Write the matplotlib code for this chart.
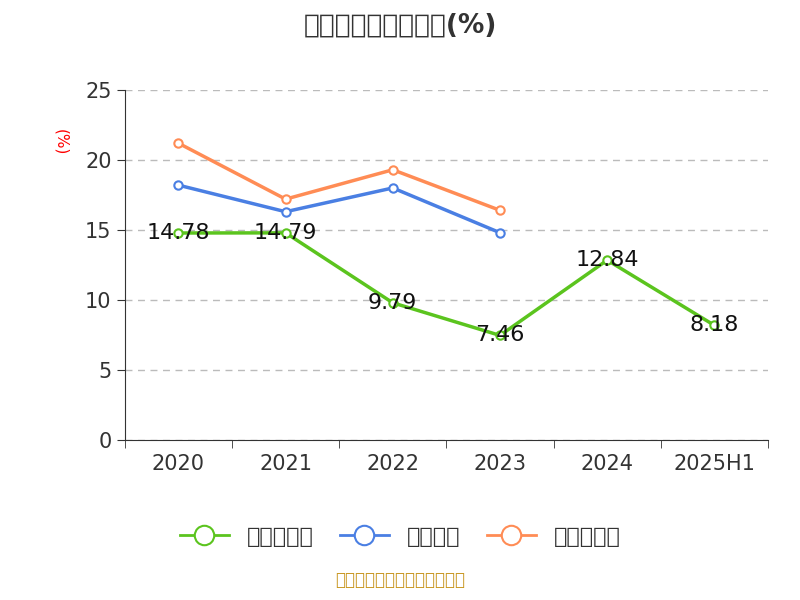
import matplotlib
matplotlib.use("Agg")
import matplotlib.pyplot as plt
from matplotlib import font_manager as fm

cjk = None
for f in fm.fontManager.ttflist:
    if 'CJK' in f.name and ('SC' in f.name or cjk is None):
        cjk = f.name
        if 'SC' in f.name:
            break
if cjk is None:
    import glob
    for p in glob.glob('/usr/share/fonts/**/*CJK*', recursive=True):
        fm.fontManager.addfont(p)
        cjk = fm.FontProperties(fname=p).get_name()
        break
plt.rcParams['font.family'] = 'sans-serif'
plt.rcParams['font.sans-serif'] = ['DejaVu Sans', cjk] if cjk else ['DejaVu Sans']

categories = ["2020", "2021", "2022", "2023", "2024", "2025H1"]
company = [14.78, 14.79, 9.79, 7.46, 12.84, 8.18]
industry_avg = [18.2, 16.3, 18.0, 14.8]
industry_median = [21.2, 17.2, 19.3, 16.4]
yticks = [0, 5, 10, 15, 20, 25]

fig = plt.figure(figsize=(8, 6), dpi=100)
ax = fig.add_axes([0.156, 0.267, 0.804, 0.583])
x = list(range(len(categories)))

c_green, c_blue, c_orange = "#5bc41e", "#4a7fe3", "#ff8c55"
ax.plot(x, company, color=c_green, lw=2.5, marker='o', ms=6, mfc='white', mew=1.5)
ax.plot(x[:4], industry_avg, color=c_blue, lw=2.5, marker='o', ms=6, mfc='white', mew=1.5)
ax.plot(x[:4], industry_median, color=c_orange, lw=2.5, marker='o', ms=6, mfc='white', mew=1.5)
for xi, v in zip(x, company):
    ax.text(xi, v, f"{v:.2f}", ha='center', va='center', fontsize=16, color='#111111')

ax.set_xlim(-0.5, 5.5)
ax.set_ylim(0, 25)
ax.set_yticks(yticks)
ax.set_xticks(x)
ax.set_xticklabels(categories)
ax.set_xticks([i - 0.5 for i in range(7)], minor=True)
ax.tick_params(axis='x', which='major', length=0, labelsize=15, colors='#333333', pad=10)
ax.tick_params(axis='x', which='minor', length=6, color='#333333')
ax.tick_params(axis='y', labelsize=15, colors='#333333', length=6)
ax.grid(axis='y', ls=(0, (5, 4)), color='#bbbbbb', lw=1)
for s in ['top', 'right']:
    ax.spines[s].set_visible(False)
ax.spines['left'].set_color('#333333')
ax.spines['bottom'].set_color('#333333')
ax.text(-0.1, 0.85, "(%)", transform=ax.transAxes, rotation=-90, color='red', fontsize=11, ha='center', va='center')

from matplotlib.lines import Line2D
handles = [Line2D([], [], color=c, lw=2, marker='o', ms=14, mfc='white', mew=1.5)
           for c in (c_green, c_blue, c_orange)]
fig.legend(handles, ["公司毛利率", "行业均值", "行业中位数"], loc='center', bbox_to_anchor=(0.5, 0.105), ncol=3,
           frameon=False, fontsize=16, handlelength=2.2, columnspacing=1.2, labelcolor='#333333')
fig.text(0.5, 0.958, "历年毛利率变化情况(%)", ha='center', va='center', fontsize=19, fontweight='bold', color='#333333')
fig.text(0.5, 0.018, "制图数据来自恒生聚源数据库", ha='center', va='bottom', fontsize=12, color='#c8961e')
fig.savefig("out.png", dpi=100)
